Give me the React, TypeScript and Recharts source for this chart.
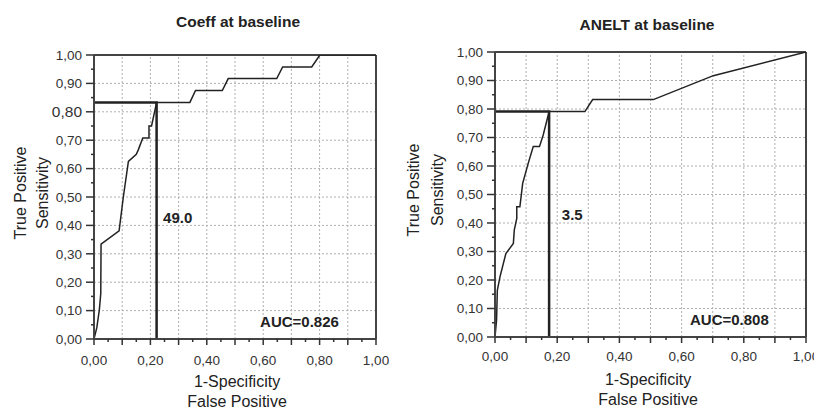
import React from 'react';
import { LineChart, Line, XAxis, YAxis, ReferenceLine, ReferenceDot } from 'recharts';

const FONT = '"Liberation Sans", Arial, Helvetica, sans-serif';

// Tick values (major every 0.10, minor every 0.05)
const axisTicks = [0, 0.05, 0.1, 0.15, 0.2, 0.25, 0.3, 0.35, 0.4, 0.45, 0.5, 0.55, 0.6, 0.65, 0.7, 0.75, 0.8, 0.85, 0.9, 0.95, 1.0];
const gridValues = [0.1, 0.2, 0.3, 0.4, 0.5, 0.6, 0.7, 0.8, 0.9];

// Left chart: Coeff at baseline
const coeffFpr = [0, 0.01, 0.019, 0.024, 0.025, 0.089, 0.104, 0.122, 0.15, 0.157, 0.173, 0.195, 0.195, 0.204, 0.222, 0.34, 0.36, 0.455, 0.476, 0.648, 0.669, 0.772, 0.801, 1.0];
const coeffTpr = [0, 0.04, 0.103, 0.16, 0.334, 0.381, 0.5, 0.625, 0.65, 0.666, 0.708, 0.708, 0.75, 0.75, 0.833, 0.833, 0.875, 0.875, 0.917, 0.917, 0.958, 0.958, 1.0, 1.0];
const coeffCut = { x: 0.222, y: 0.833, label: '49.0' };
const coeffAuc = { x: 0.589, y: 0.042, label: 'AUC=0.826' };
const coeffCutLabelPos = { x: 0.245, y: 0.408 };

// Right chart: ANELT at baseline
const aneltFpr = [0, 0.005, 0.0075, 0.016, 0.035, 0.059, 0.062, 0.07, 0.07, 0.08, 0.089, 0.107, 0.123, 0.143, 0.155, 0.174, 0.289, 0.314, 0.509, 0.702, 1.0];
const aneltTpr = [0, 0.059, 0.164, 0.211, 0.293, 0.328, 0.375, 0.416, 0.457, 0.457, 0.539, 0.61, 0.668, 0.668, 0.709, 0.791, 0.791, 0.833, 0.833, 0.917, 1.0];
const aneltCut = { x: 0.174, y: 0.791, label: '3.5' };
const aneltAuc = { x: 0.627, y: 0.042, label: 'AUC=0.808' };
const aneltCutLabelPos = { x: 0.215, y: 0.41 };

const fmt = (v: number) => v.toFixed(2).replace('.', ',');

const makeXTick = (labelDy: number) => (props: any) => {
  const { x, y, payload } = props;
  const v = payload.value as number;
  const h = Math.round(v * 100);
  const major = h % 10 === 0;
  const len = major ? 6 : 3;
  return (
    <g>
      <line x1={x} x2={x} y1={y} y2={y + len} stroke="#333" strokeWidth={1.5} />
      {h % 20 === 0 && (
        <text x={x} y={y + labelDy} textAnchor="middle" fontFamily={FONT} fontSize={13.5} fill="#333">
          {fmt(v)}
        </text>
      )}
    </g>
  );
};

const makeYTick = (bigEighty: boolean) => (props: any) => {
  const { x, y, payload } = props;
  const v = payload.value as number;
  const h = Math.round(v * 100);
  const major = h % 10 === 0;
  const len = major ? 8 : 3;
  const big = bigEighty && h === 80;
  return (
    <g>
      <line x1={x - len} x2={x} y1={y} y2={y} stroke="#333" strokeWidth={1.5} />
      {major && (
        <text x={x - 12} y={y} dy="0.36em" textAnchor="end" fontFamily={FONT} fontSize={big ? 15.5 : 13.5} fill="#333">
          {fmt(v)}
        </text>
      )}
    </g>
  );
};

const textShape = (label: string) => (props: any) => (
  <text x={props.cx} y={props.cy} fontFamily={FONT} fontWeight="bold" fontSize={15} fill="#222">
    {label}
  </text>
);

type RocProps = {
  left: number;
  width: number;
  margin: { top: number; right: number; bottom: number; left: number };
  fpr: number[];
  tpr: number[];
  cut: { x: number; y: number; label: string };
  cutPos: { x: number; y: number };
  auc: { x: number; y: number; label: string };
  bigEighty: boolean;
  labelDy: number;
};

function RocChart(p: RocProps) {
  const data = p.fpr.map((x, i) => ({ x, y: p.tpr[i] }));
  const cutData = [
    { x: 0, y: p.cut.y },
    { x: p.cut.x, y: p.cut.y },
    { x: p.cut.x, y: 0 },
  ];
  return (
    <div style={{ position: 'absolute', left: p.left, top: 0 }}>
      <LineChart width={p.width} height={410} data={data} margin={p.margin}>
        {gridValues.map((g) => (
          <ReferenceLine key={'gx' + g} x={g} stroke="#b0b0b0" strokeDasharray="2 2" strokeWidth={1} />
        ))}
        {gridValues.map((g) => (
          <ReferenceLine key={'gy' + g} y={g} stroke="#b0b0b0" strokeDasharray="2 2" strokeWidth={1} />
        ))}
        <XAxis
          type="number"
          dataKey="x"
          domain={[0, 1]}
          ticks={axisTicks}
          interval={0}
          tickSize={0}
          tickMargin={0}
          tickLine={false}
          tick={makeXTick(p.labelDy)}
          axisLine={{ stroke: '#444', strokeWidth: 2 }}
          height={30}
          allowDataOverflow
        />
        <YAxis
          type="number"
          domain={[0, 1]}
          ticks={axisTicks}
          interval={0}
          tickSize={0}
          tickMargin={0}
          tickLine={false}
          tick={makeYTick(p.bigEighty)}
          axisLine={{ stroke: '#444', strokeWidth: 2 }}
          width={60}
          allowDataOverflow
        />
        <ReferenceLine y={1} stroke="#444" strokeWidth={2} />
        <ReferenceLine x={1} stroke="#444" strokeWidth={2} />
        <Line
          data={cutData}
          dataKey="y"
          type="linear"
          stroke="#222"
          strokeWidth={2.5}
          dot={false}
          isAnimationActive={false}
        />
        <Line
          dataKey="y"
          type="linear"
          stroke="#222"
          strokeWidth={1.5}
          dot={false}
          isAnimationActive={false}
        />
        <ReferenceDot x={p.cutPos.x} y={p.cutPos.y} r={0} shape={textShape(p.cut.label)} />
        <ReferenceDot x={p.auc.x} y={p.auc.y} r={0} shape={textShape(p.auc.label)} />
      </LineChart>
    </div>
  );
}

const txt = { fontFamily: FONT, fill: '#222' };

export default function App() {
  return (
    <div style={{ position: 'absolute', left: 0, top: 0, width: 814, height: 410, background: '#fff', overflow: 'hidden' }}>
      <RocChart
        left={0}
        width={400}
        margin={{ top: 55, right: 24, bottom: 41, left: 34 }}
        fpr={coeffFpr}
        tpr={coeffTpr}
        cut={coeffCut}
        cutPos={coeffCutLabelPos}
        auc={coeffAuc}
        bigEighty={true}
        labelDy={26}
      />
      <RocChart
        left={400}
        width={414}
        margin={{ top: 52, right: 8, bottom: 43, left: 35 }}
        fpr={aneltFpr}
        tpr={aneltTpr}
        cut={aneltCut}
        cutPos={aneltCutLabelPos}
        auc={aneltAuc}
        bigEighty={false}
        labelDy={24}
      />
      <svg width={814} height={410} style={{ position: 'absolute', left: 0, top: 0, pointerEvents: 'none' }}>
        <text x={238} y={27} textAnchor="middle" fontWeight="bold" fontSize={15.5} {...txt}>Coeff at baseline</text>
        <text x={647} y={30} textAnchor="middle" fontWeight="bold" fontSize={15.5} {...txt}>ANELT at baseline</text>
        <text transform="translate(26,193) rotate(-90)" textAnchor="middle" fontSize={16} {...txt}>True Positive</text>
        <text transform="translate(48,193) rotate(-90)" textAnchor="middle" fontSize={16} {...txt}>Sensitivity</text>
        <text transform="translate(419,190) rotate(-90)" textAnchor="middle" fontSize={16} {...txt}>True Positive</text>
        <text transform="translate(443,190) rotate(-90)" textAnchor="middle" fontSize={16} {...txt}>Sensitivity</text>
        <text x={237} y={387} textAnchor="middle" fontSize={16} {...txt}>1-Specificity</text>
        <text x={237} y={407} textAnchor="middle" fontSize={16} {...txt}>False Positive</text>
        <text x={648} y={385} textAnchor="middle" fontSize={16} {...txt}>1-Specificity</text>
        <text x={648} y={405} textAnchor="middle" fontSize={16} {...txt}>False Positive</text>
      </svg>
    </div>
  );
}
